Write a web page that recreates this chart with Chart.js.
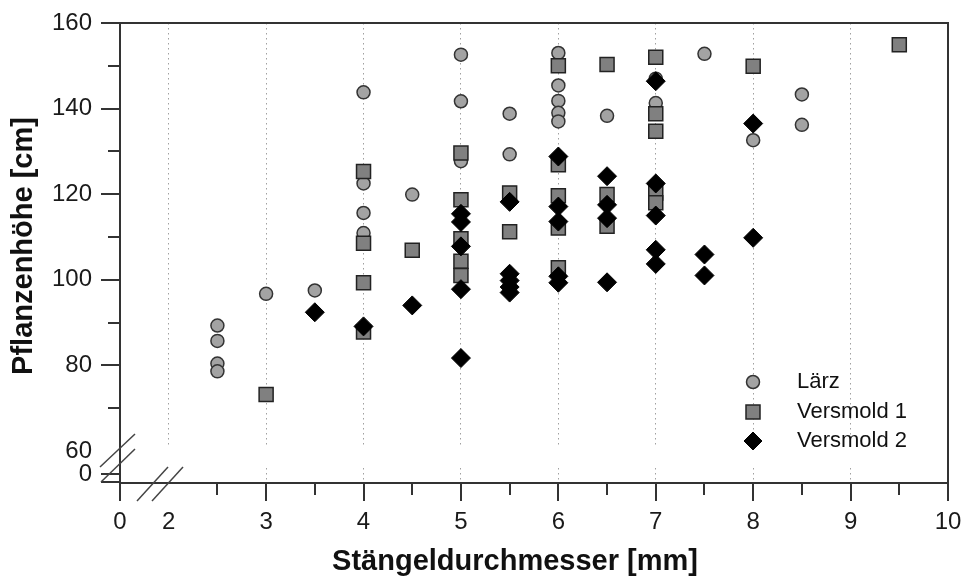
<!DOCTYPE html>
<html>
<head>
<meta charset="utf-8">
<script src="https://cdn.jsdelivr.net/npm/chart.js@4.4.0/dist/chart.umd.min.js"></script>
<style>
  html, body { margin: 0; padding: 0; background: #fff; }
  #wrap { width: 961px; height: 576px; }
</style>
</head>
<body>
<div id="wrap"><canvas id="chart" width="961" height="576"></canvas></div>
<script>
  // Data (Stängeldurchmesser in mm, Pflanzenhöhe in cm)
  const laerzX = [2.5, 2.5, 2.5, 2.5, 3, 3.5, 4, 4, 4, 4, 4.5, 5, 5, 5, 5.5, 5.5, 6, 6, 6, 6, 6, 6.5, 7, 7, 7.5, 8, 8.5, 8.5];
  const laerzY = [89.3, 85.7, 80.4, 78.6, 96.7, 97.5, 143.8, 122.5, 115.6, 110.9, 119.9, 152.6, 141.7, 127.7, 138.8, 129.3, 153.0, 145.4, 141.8, 139.0, 137.0, 138.3, 147.0, 141.3, 152.8, 132.6, 143.3, 136.2];

  const vers1X = [3, 4, 4, 4, 4, 4.5, 5, 5, 5, 5, 5, 5.5, 5.5, 6, 6, 6, 6, 6, 6.5, 6.5, 6.5, 7, 7, 7, 7, 7, 8, 9.5];
  const vers1Y = [73.2, 125.3, 108.5, 99.3, 87.8, 106.9, 129.6, 118.7, 109.6, 104.3, 101.0, 120.3, 111.2, 150.0, 126.9, 119.6, 112.1, 102.8, 150.3, 119.9, 112.5, 152.0, 138.8, 134.7, 120.3, 118.0, 149.9, 154.9];

  const vers2X = [3.5, 4, 4.5, 5, 5, 5, 5, 5, 5.5, 5.5, 5.5, 5.5, 5.5, 6, 6, 6, 6, 6, 6.5, 6.5, 6.5, 6.5, 7, 7, 7, 7, 7, 7.5, 7.5, 8, 8];
  const vers2Y = [92.4, 89.1, 94.0, 115.4, 113.5, 107.8, 97.8, 81.7, 118.2, 101.4, 99.8, 98.3, 97.0, 128.8, 117.1, 113.6, 100.8, 99.3, 124.2, 117.5, 114.4, 99.4, 146.4, 122.5, 115.0, 107.0, 103.7, 105.9, 101.0, 136.5, 109.8];

  // Axis ticks (broken axes: "0" sits before the break)
  const xTickValues = [1.5, 2, 2.5, 3, 3.5, 4, 4.5, 5, 5.5, 6, 6.5, 7, 7.5, 8, 8.5, 9, 9.5, 10];
  const xTickLabels = ['0', '2', '', '3', '', '4', '', '5', '', '6', '', '7', '', '8', '', '9', '', '10'];
  const yTickValues = [54.5, 60, 70, 80, 90, 100, 110, 120, 130, 140, 150, 160];
  const yTickLabels = ['0', '60', '', '80', '', '100', '', '120', '', '140', '', '160'];

  const xTitle = 'Stängeldurchmesser [mm]';
  const yTitle = 'Pflanzenhöhe [cm]';

  const FONT = "'Liberation Sans', Arial, sans-serif";
  const AXIS = '#333';

  const toPoints = (xs, ys) => xs.map((x, i) => ({ x: x, y: ys[i] }));

  // ticks, frame, axis breaks, titles and the in-plot legend
  const decorations = {
    id: 'decorations',
    beforeDatasetsDraw(chart) {
      const { ctx, chartArea: a, scales: { x, y } } = chart;
      const gapTop = y.getPixelForValue(61);
      const gapBottom = y.getPixelForValue(56.2);
      ctx.save();
      ctx.fillStyle = '#fff';
      ctx.fillRect(a.left + 2, gapTop, a.right - a.left - 4, gapBottom - gapTop);
      const x2 = x.getPixelForValue(2);
      ctx.fillRect(x2 - 2, gapTop, 4, a.bottom - gapTop - 2);
      ctx.restore();
    },
    afterDraw(chart) {
      const { ctx, chartArea: a, scales: { x, y } } = chart;
      ctx.save();
      ctx.strokeStyle = AXIS;
      ctx.lineWidth = 2;
      // top and right frame
      ctx.beginPath();
      ctx.moveTo(a.left, a.top);
      ctx.lineTo(a.right, a.top);
      ctx.lineTo(a.right, a.bottom);
      ctx.stroke();

      // x tick marks
      x.ticks.forEach((t, i) => {
        if (t.value === 2) return;
        const px = Math.round(x.getPixelForValue(t.value));
        const len = xTickLabels[i] !== '' ? 18 : 12;
        ctx.beginPath();
        ctx.moveTo(px, a.bottom);
        ctx.lineTo(px, a.bottom + len);
        ctx.stroke();
      });
      // y tick marks
      y.ticks.forEach((t, i) => {
        if (t.value === 60) return;
        const py = Math.round(y.getPixelForValue(t.value));
        const len = yTickLabels[i] !== '' ? 19 : 12;
        ctx.beginPath();
        ctx.moveTo(a.left, py);
        ctx.lineTo(a.left - len, py);
        ctx.stroke();
      });
      ctx.beginPath();
      ctx.moveTo(a.left, a.bottom - 1);
      ctx.lineTo(a.left - 19, a.bottom - 1);
      ctx.stroke();

      // break marks
      ctx.lineWidth = 1.5;
      ctx.strokeStyle = '#444';
      const slash = (x1, y1, x2, y2) => {
        ctx.beginPath();
        ctx.moveTo(x1, y1);
        ctx.lineTo(x2, y2);
        ctx.stroke();
      };
      slash(a.left - 20, a.bottom - 16, a.left + 15, a.bottom - 49);
      slash(a.left - 19, a.bottom - 1, a.left + 15, a.bottom - 34);
      slash(a.left + 17, a.bottom + 18, a.left + 48, a.bottom - 16);
      slash(a.left + 32, a.bottom + 18, a.left + 63, a.bottom - 16);

      // axis titles
      ctx.fillStyle = '#111';
      ctx.font = 'bold 29px ' + FONT;
      ctx.textAlign = 'center';
      ctx.textBaseline = 'alphabetic';
      ctx.fillText(xTitle, 515, 570);
      ctx.save();
      ctx.translate(32, 246);
      ctx.rotate(-Math.PI / 2);
      ctx.fillText(yTitle, 0, 0);
      ctx.restore();

      // legend
      const lx = 753, tx = 797, rows = [382, 412, 441];
      chart.data.datasets.forEach((ds, i) => {
        const cy = rows[i];
        ctx.fillStyle = ds.backgroundColor;
        ctx.strokeStyle = ds.borderColor;
        ctx.lineWidth = ds.borderWidth;
        ctx.beginPath();
        if (ds.pointStyle === 'circle') {
          ctx.arc(lx, cy, 6.5, 0, Math.PI * 2);
        } else if (ds.pointStyle === 'rect') {
          ctx.rect(lx - 7, cy - 7, 14, 14);
        } else {
          ctx.moveTo(lx - 9, cy);
          ctx.lineTo(lx, cy - 9);
          ctx.lineTo(lx + 9, cy);
          ctx.lineTo(lx, cy + 9);
          ctx.closePath();
        }
        ctx.fill();
        ctx.stroke();
        ctx.fillStyle = '#111';
        ctx.font = '22px ' + FONT;
        ctx.textBaseline = 'middle';
        ctx.textAlign = 'left';
        ctx.fillText(ds.label, tx, cy);
      });
      ctx.restore();
    }
  };

  new Chart(document.getElementById('chart'), {
    type: 'scatter',
    data: {
      datasets: [
        {
          label: 'Lärz',
          data: toPoints(laerzX, laerzY),
          pointStyle: 'circle',
          pointRadius: 6.5,
          backgroundColor: '#a3a3a3',
          borderColor: '#333',
          borderWidth: 1.5,
          order: 3
        },
        {
          label: 'Versmold 1',
          data: toPoints(vers1X, vers1Y),
          pointStyle: 'rect',
          pointRadius: 9.9,
          backgroundColor: '#808080',
          borderColor: '#222',
          borderWidth: 1.5,
          order: 2
        },
        {
          label: 'Versmold 2',
          data: toPoints(vers2X, vers2Y),
          pointStyle: 'rectRot',
          pointRadius: 9.5,
          backgroundColor: '#000',
          borderColor: '#000',
          borderWidth: 1,
          order: 1
        }
      ]
    },
    options: {
      responsive: false,
      animation: false,
      events: [],
      layout: { padding: { top: 23, right: 13, left: 0, bottom: 0 } },
      plugins: {
        legend: { display: false },
        tooltip: { enabled: false }
      },
      scales: {
        x: {
          type: 'linear',
          min: 1.5,
          max: 10,
          afterBuildTicks: s => { s.ticks = xTickValues.map(v => ({ value: v })); },
          afterFit: s => {
            s.height = 93;
            s.paddingLeft = 0;
            s.paddingRight = 0;
          },
          ticks: {
            autoSkip: false,
            maxRotation: 0,
            padding: 25,
            color: '#1a1a1a',
            font: { family: FONT, size: 24 },
            callback: (v, i) => xTickLabels[i]
          },
          grid: {
            drawTicks: false,
            lineWidth: 1,
            color: c => (c.tick && Number.isInteger(c.tick.value) && c.tick.value >= 2 && c.tick.value <= 9) ? '#a0a0a0' : 'rgba(0,0,0,0)'
          },
          border: { color: AXIS, width: 2, dash: [1.5, 3.5] }
        },
        y: {
          type: 'linear',
          min: 52.5,
          max: 160,
          afterBuildTicks: s => { s.ticks = yTickValues.map(v => ({ value: v })); },
          afterFit: s => {
            s.width = 120;
            s.paddingTop = 0;
            s.paddingBottom = 0;
          },
          ticks: {
            autoSkip: false,
            padding: 28,
            color: '#1a1a1a',
            font: { family: FONT, size: 24 },
            callback: (v, i) => yTickLabels[i]
          },
          grid: { drawTicks: false, color: 'rgba(0,0,0,0)' },
          border: { color: AXIS, width: 2 }
        }
      }
    },
    plugins: [decorations]
  });
</script>
</body>
</html>
